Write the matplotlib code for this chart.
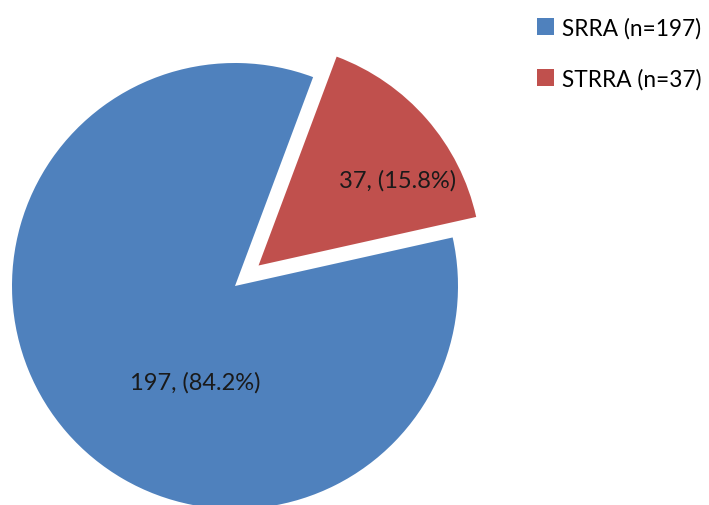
import matplotlib.pyplot as plt
import numpy as np

labels = ['SRRA (n=197)', 'STRRA (n=37)']
counts = [197, 37]
colors = ['#4F81BD', '#C0504D']

total = sum(counts)
pcts = [100 * c / total for c in counts]

plt.rcParams['font.family'] = ['Lato', 'DejaVu Sans']

fig = plt.figure(figsize=(7.09, 5.06), dpi=100)
# axes sized so that radius 1 == 223 px, centre at (235, 287) px
R = 223
lim = 1.35
w = 2 * lim * R
ax = fig.add_axes([(235 - lim * R) / 709, (219 - lim * R) / 506, w / 709, w / 506])
wedges, _ = ax.pie(counts, colors=colors, startangle=69.5, counterclock=True,
                   explode=(0, 0.14), radius=1,
                   wedgeprops=dict(linewidth=0))
ax.set_xlim(-lim, lim)
ax.set_ylim(-lim, lim)
ax.axis('off')

ax.text(-0.18, -0.43, '%d, (%.1f%%)' % (counts[0], pcts[0]), ha='center', va='center',
        fontsize=17, color='#1a1a1a')
ax.text(0.73, 0.475, '%d, (%.1f%%)' % (counts[1], pcts[1]), ha='center', va='center',
        fontsize=17, color='#1a1a1a')

fig.legend(wedges, labels, loc='upper left', bbox_to_anchor=(537 / 709, 1 - 18 / 506),
           frameon=False, fontsize=16.3, handlelength=0.75, handleheight=0.75,
           handletextpad=0.35, labelspacing=1.3, borderpad=0, borderaxespad=0)

fig.savefig('out.png', dpi=100)
